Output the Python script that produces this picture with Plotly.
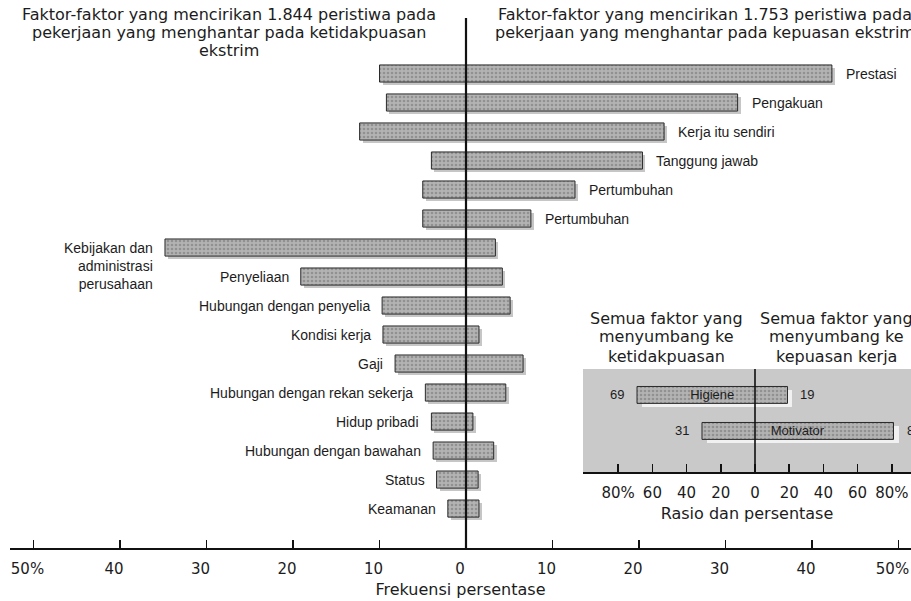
import plotly.graph_objects as go

# ---------------- data ----------------
factors = [
    "Prestasi", "Pengakuan", "Kerja itu sendiri", "Tanggung jawab", "Pertumbuhan", "Pertumbuhan",
    "Kebijakan dan<br>administrasi<br>perusahaan", "Penyeliaan", "Hubungan dengan penyelia",
    "Kondisi kerja", "Gaji", "Hubungan dengan rekan sekerja", "Hidup pribadi",
    "Hubungan dengan bawahan", "Status", "Keamanan",
]
factor_group = ["Motivator"] * 6 + ["Higiene"] * 10
dissatisfaction = [10.0, 9.2, 12.3, 4.0, 5.0, 5.0, 34.8, 19.1, 9.7, 9.6, 8.2, 4.7, 4.0, 3.8, 3.4, 2.1]
satisfaction = [42.3, 31.4, 22.9, 20.4, 12.6, 7.5, 3.4, 4.2, 5.1, 1.5, 6.6, 4.6, 0.8, 3.2, 1.4, 1.5]

freq_ticks = [-50, -40, -30, -20, -10, 0, 10, 20, 30, 40, 50]
freq_labels = ["50%", "40", "30", "20", "10", "0", "10", "20", "30", "40", "50%"]

summary_groups = ["Higiene", "Motivator"]
summary_dissat = [69, 31]
summary_sat = [19, 81]
ratio_ticks = [-80, -60, -40, -20, 0, 20, 40, 60, 80]
ratio_labels = ["80%", "60", "40", "20", "0", "20", "40", "60", "80%"]

title_left = ["Faktor-faktor yang mencirikan 1.844 peristiwa pada",
              "pekerjaan yang menghantar pada ketidakpuasan", "ekstrim"]
title_right = ["Faktor-faktor yang mencirikan 1.753 peristiwa pada",
               "pekerjaan yang menghantar pada kepuasan ekstrim"]
inset_left = ["Semua faktor yang", "menyumbang ke", "ketidakpuasan"]
inset_right = ["Semua faktor yang", "menyumbang ke", "kepuasan kerja"]

# ---------------- geometry helpers ----------------
W, H = 911, 601
def fx(p): return p / W
def fy(p): return 1 - p / H

TXT = "#1c1c1c"
SANS = "DejaVu Sans"
NARROW = "Liberation Sans, Arial"

rows = list(range(len(factors)))
base = [-d for d in dissatisfaction]
length = [d + s for d, s in zip(dissatisfaction, satisfaction)]

srows = list(range(len(summary_groups)))
sbase = [-d for d in summary_dissat]
slen = [d + s for d, s in zip(summary_dissat, summary_sat)]

bar_marker = dict(color="#a8a8a8", line=dict(color="#2a2a2a", width=1),
                  pattern=dict(shape=".", fgcolor="#707070", bgcolor="#b3b3b3", size=4, solidity=0.35))

fig = go.Figure()
# main shadow
fig.add_trace(go.Bar(y=rows, x=length, base=base, orientation="h", width=0.59,
                     marker=dict(color="#c6c6c6", line=dict(width=0)),
                     xaxis="x", yaxis="y", hoverinfo="skip", showlegend=False))
# main bars
fig.add_trace(go.Bar(y=rows, x=length, base=base, orientation="h", width=0.59,
                     marker=bar_marker, xaxis="x2", yaxis="y2", showlegend=False,
                     hovertext=[f.replace("<br>", " ") for f in factors]))
# inset shadow
fig.add_trace(go.Bar(y=srows, x=slen, base=sbase, orientation="h", width=0.47,
                     marker=dict(color="#f1f1f1", line=dict(width=0)),
                     xaxis="x3", yaxis="y3", hoverinfo="skip", showlegend=False))
# inset bars
fig.add_trace(go.Bar(y=srows, x=slen, base=sbase, orientation="h", width=0.47,
                     marker=bar_marker, text=summary_groups, textposition="inside",
                     insidetextanchor="middle", textangle=0, constraintext="none",
                     textfont=dict(family=NARROW, size=13, color=TXT),
                     xaxis="x4", yaxis="y4", showlegend=False))

# main axis ranges (0 at x=466, 8.65 px per %)
xr = [(10 - 466) / 8.65, (W - 466) / 8.65]
yr = [16.36, -0.5]
dx_main = 3 / 8.65
dy_main = 3 / 29
# inset ranges (0 at x=755, 1.71 px per %)
xr4 = [(583 - 755) / 1.71, (W - 755) / 1.71]
yr4 = [2.14, -0.72]
dx_in = 5 / 1.71
dy_in = 4 / 36

main_xdom = [fx(10), 1]
main_ydom = [fy(548), fy(59)]
in_xdom = [fx(583), 1]
in_ydom = [fy(472), fy(369)]

hidden = dict(visible=False, showgrid=False, zeroline=False, fixedrange=True)

fig.update_layout(
    width=W, height=H,
    margin=dict(l=0, r=0, t=0, b=0),
    paper_bgcolor="white", plot_bgcolor="rgba(0,0,0,0)",
    barmode="overlay", bargap=0, hovermode=False,
    font=dict(family=SANS, color=TXT),
    xaxis=dict(domain=main_xdom, range=[xr[0] - dx_main, xr[1] - dx_main], anchor="y", **hidden),
    yaxis=dict(domain=main_ydom, range=[yr[0] - dy_main, yr[1] - dy_main], anchor="x", **hidden),
    xaxis2=dict(domain=main_xdom, range=xr, anchor="y2", showgrid=False, zeroline=False,
                showline=True, linecolor="#111", linewidth=2,
                ticks="inside", ticklen=8, tickwidth=1.5, tickcolor="#111",
                tickvals=freq_ticks, ticktext=freq_labels, ticklabelshift=-6, ticklabelstandoff=6,
                ticklabeloverflow="allow",
                tickfont=dict(family=SANS, size=15, color=TXT),
                title=dict(text="Frekuensi persentase", font=dict(family=SANS, size=16, color=TXT), standoff=7)),
    yaxis2=dict(domain=main_ydom, range=yr, anchor="x2", **hidden),
    xaxis3=dict(domain=in_xdom, range=[xr4[0] - dx_in, xr4[1] - dx_in], anchor="y3", **hidden),
    yaxis3=dict(domain=in_ydom, range=[yr4[0] - dy_in, yr4[1] - dy_in], anchor="x3", **hidden),
    xaxis4=dict(domain=in_xdom, range=xr4, anchor="y4", showgrid=False, zeroline=False,
                showline=True, linecolor="#111", linewidth=2,
                ticks="inside", ticklen=8, tickwidth=1.5, tickcolor="#111",
                tickvals=ratio_ticks, ticktext=ratio_labels, ticklabelstandoff=6,
                ticklabeloverflow="allow",
                tickfont=dict(family=SANS, size=15, color=TXT),
                title=dict(text="Rasio dan persentase", font=dict(family=SANS, size=16, color=TXT), standoff=7)),
    yaxis4=dict(domain=in_ydom, range=yr4, anchor="x4", **hidden),
)

shapes = [
    # inset background
    dict(type="rect", xref="paper", yref="paper", x0=fx(583), x1=1, y0=fy(472), y1=fy(369),
         fillcolor="#c9c9c9", line=dict(width=0), layer="below"),
    # main centre line
    dict(type="line", xref="x2", yref="paper", x0=0, x1=0, y0=fy(548), y1=fy(18),
         line=dict(color="#111", width=2.2), layer="above"),
    # inset centre line
    dict(type="line", xref="x4", yref="paper", x0=0, x1=0, y0=fy(472), y1=fy(369),
         line=dict(color="#111", width=1.6), layer="above"),
]
fig.update_layout(shapes=shapes)

ann = []
for i, (name, d, s, g) in enumerate(zip(factors, dissatisfaction, satisfaction, factor_group)):
    if g == "Motivator":
        ann.append(dict(xref="x2", yref="y2", x=s, y=i, text=name, showarrow=False,
                        xanchor="left", xshift=12, font=dict(family=NARROW, size=14, color=TXT)))
    else:
        multi = "<br>" in name
        ann.append(dict(xref="x2", yref="y2", x=-d, y=i, text=name, showarrow=False,
                        xanchor="right", xshift=-10, align="right",
                        yanchor="top" if multi else "middle", yshift=10 if multi else 0,
                        font=dict(family=NARROW, size=14, color=TXT)))

for i, (d, s) in enumerate(zip(summary_dissat, summary_sat)):
    ann.append(dict(xref="x4", yref="y4", x=-d, y=i, text=str(d), showarrow=False,
                    xanchor="right", xshift=-11, font=dict(family=NARROW, size=13, color=TXT)))
    ann.append(dict(xref="x4", yref="y4", x=s, y=i, text=str(s), showarrow=False,
                    xanchor="left", xshift=11, font=dict(family=NARROW, size=13, color=TXT)))

for line, yp in zip(title_left, [15, 32.5, 50]):
    ann.append(dict(xref="paper", yref="paper", x=fx(229), y=fy(yp), text=line, showarrow=False,
                    xanchor="center", yanchor="middle", borderpad=0,
                    font=dict(family=SANS, size=16, color=TXT)))
for line, yp in zip(title_right, [15, 32.5]):
    ann.append(dict(xref="paper", yref="paper", x=fx(705), y=fy(yp), text=line, showarrow=False,
                    xanchor="center", yanchor="middle", borderpad=0,
                    font=dict(family=SANS, size=16, color=TXT)))
for line, yp in zip(inset_left, [318, 337, 356]):
    ann.append(dict(xref="paper", yref="paper", x=fx(666), y=fy(yp), text=line, showarrow=False,
                    xanchor="center", yanchor="middle", borderpad=0,
                    font=dict(family=SANS, size=16, color=TXT)))
for line, yp in zip(inset_right, [318, 337, 356]):
    ann.append(dict(xref="paper", yref="paper", x=fx(836), y=fy(yp), text=line, showarrow=False,
                    xanchor="center", yanchor="middle", borderpad=0,
                    font=dict(family=SANS, size=16, color=TXT)))

fig.update_layout(annotations=ann)

# remove the default 8px page margin so the 911x601 figure fills the window exactly
fig.write_html("out.html",
               config={"displayModeBar": False, "staticPlot": True},
               post_script="document.body.style.margin='0';document.body.style.overflow='hidden';")
